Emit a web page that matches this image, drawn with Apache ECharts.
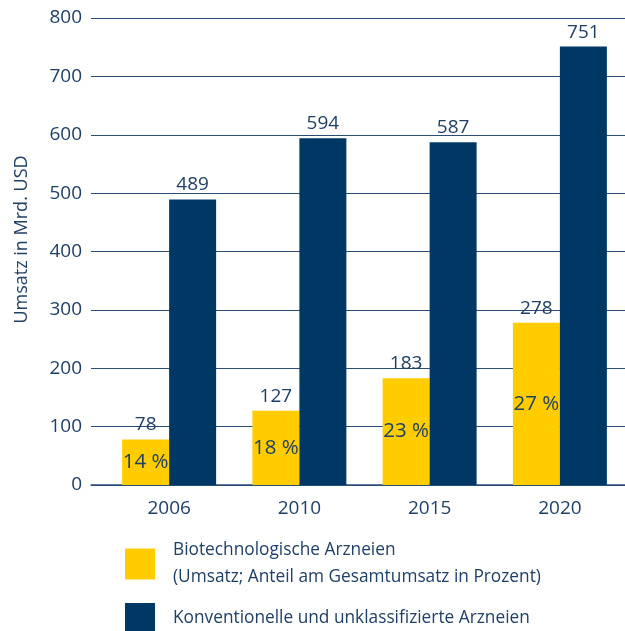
<!DOCTYPE html>
<html>
<head>
<meta charset="utf-8">
<script src="https://cdn.jsdelivr.net/npm/echarts@6/dist/echarts.min.js"></script>
<style>
html,body{margin:0;padding:0;background:#fff;}
#chart{width:625px;height:631px;}
</style>
</head>
<body>
<div id="chart"></div>
<script>
const years = ['2006', '2010', '2015', '2020'];
const bioValues = [78, 127, 183, 278];
const bioShares = ['14 %', '18 %', '23 %', '27 %'];
const convValues = [489, 594, 587, 751];
const yTicks = [0, 100, 200, 300, 400, 500, 600, 700, 800];
const seriesNames = ['Biotechnologische Arzneien\n(Umsatz; Anteil am Gesamtumsatz in Prozent)', 'Konventionelle und unklassifizierte Arzneien'];
const axisTitle = 'Umsatz in Mrd. USD';

const FONT = 'Open Sans';
const TXT = '#1e3f66';
const LINE = '#2a4d76';
const BLUE = '#003865';
const YELLOW = '#ffcc00';

const chart = echarts.init(document.getElementById('chart'), null, {renderer: 'canvas'});
chart.setOption({
  animation: false,
  textStyle: {fontFamily: FONT},
  grid: [
    {left: 104, right: -2, top: 18, bottom: 146},
    {left: 91, right: 0, top: 18, bottom: 146}
  ],
  legend: {
    orient: 'vertical',
    left: 125,
    top: 537,
    padding: 0,
    itemWidth: 30,
    itemHeight: 31,
    itemGap: 12,
    icon: 'rect',
    data: seriesNames,
    textStyle: {fontFamily: FONT, fontSize: 17.3, color: TXT, lineHeight: 27, padding: [0, 0, 0, 13]}
  },
  xAxis: [
    {
      type: 'category', gridIndex: 0, data: years,
      axisLine: {show: false}, axisTick: {show: false},
      axisLabel: {fontFamily: FONT, fontSize: 19, color: TXT, margin: 14}
    },
    {
      type: 'value', gridIndex: 1, min: 0, max: 1,
      axisLine: {show: true, onZero: false, lineStyle: {color: LINE, width: 1.5}},
      axisTick: {show: false}, axisLabel: {show: false}, splitLine: {show: false}
    }
  ],
  yAxis: [
    {
      type: 'value', gridIndex: 0, min: yTicks[0], max: yTicks[yTicks.length - 1], interval: 100,
      show: false, splitLine: {show: false}
    },
    {
      type: 'value', gridIndex: 1, min: yTicks[0], max: yTicks[yTicks.length - 1], interval: 100,
      axisLine: {show: false}, axisTick: {show: false},
      axisLabel: {fontFamily: FONT, fontSize: 19, color: TXT, margin: 9},
      splitLine: {show: true, lineStyle: {color: LINE, width: 1}},
      name: axisTitle, nameLocation: 'middle', nameGap: 60, nameRotate: 90,
      nameTextStyle: {fontFamily: FONT, fontSize: 18, color: TXT, padding: [0, 0, 0, 24]}
    }
  ],
  series: [
    {
      name: seriesNames[0], type: 'bar', xAxisIndex: 0, yAxisIndex: 0,
      data: bioValues, barWidth: 47, barGap: '0%', stack: 'bio',
      itemStyle: {color: YELLOW},
      label: {show: true, position: 'inside', fontFamily: FONT, fontSize: 20.5, color: TXT,
        formatter: p => bioShares[p.dataIndex]},
      z: 3
    },
    {
      name: 'bioTop', type: 'bar', xAxisIndex: 0, yAxisIndex: 0,
      data: bioValues.map(() => 0), barWidth: 47, barGap: '0%', stack: 'bio',
      itemStyle: {color: 'rgba(0,0,0,0)'},
      label: {show: true, position: 'top', distance: 5, fontFamily: FONT, fontSize: 19, color: TXT,
        formatter: p => String(bioValues[p.dataIndex])},
      z: 4
    },
    {
      name: seriesNames[1], type: 'bar', xAxisIndex: 0, yAxisIndex: 0,
      data: convValues, barWidth: 47, barGap: '0%',
      itemStyle: {color: BLUE},
      label: {show: true, position: 'top', distance: 5, fontFamily: FONT, fontSize: 19, color: TXT},
      z: 3
    }
  ]
});
</script>
</body>
</html>
